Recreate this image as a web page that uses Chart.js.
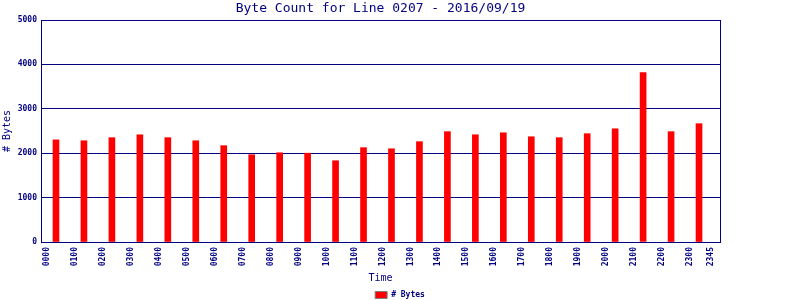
<!DOCTYPE html>
<html lang="en">
<head>
    <meta charset="UTF-8">
    <title>Byte Count for Line 0207</title>
    <style>
        body, html {
            margin: 0;
            background: #ffffff;
        }
        canvas {
            display: block;
        }
    </style>
</head>
<body>
    <canvas id="byteChart" width="800" height="300"></canvas>
    <script src="https://cdn.jsdelivr.net/npm/chart.js"></script>
    <script>
        // hourly samples
        const hours = [0, 1, 2, 3, 4, 5, 6, 7, 8, 9, 10, 11,
                       12, 13, 14, 15, 16, 17, 18, 19, 20, 21, 22, 23];
        const byteCounts = [2300, 2280, 2350, 2415, 2350, 2280, 2170, 1965, 2010, 2000, 1830, 2125,
                            2100, 2260, 2485, 2415, 2460, 2370, 2350, 2440, 2550, 3815, 2485, 2665];

        // x axis labels (last one is 23:45)
        const tickHours = [0, 1, 2, 3, 4, 5, 6, 7, 8, 9, 10, 11,
                           12, 13, 14, 15, 16, 17, 18, 19, 20, 21, 22, 23, 23.75];
        const timeLabels = ['0000', '0100', '0200', '0300', '0400', '0500', '0600', '0700',
                            '0800', '0900', '1000', '1100', '1200', '1300', '1400', '1500',
                            '1600', '1700', '1800', '1900', '2000', '2100', '2200', '2300', '2345'];

        const yTicks = [0, 1000, 2000, 3000, 4000, 5000];

        const navy = '#000080';
        const mono = '"DejaVu Sans Mono", monospace';

        const ctx = document.getElementById('byteChart').getContext('2d');

        new Chart(ctx, {
            type: 'bar',
            data: {
                datasets: [{
                    label: '# Bytes',
                    data: hours.map((h, i) => ({ x: h, y: byteCounts[i] })),
                    backgroundColor: '#ff0000',
                    borderWidth: 0,
                    barThickness: 6
                }]
            },
            options: {
                responsive: false,
                animation: false,
                layout: { padding: 0 },
                plugins: {
                    title: {
                        display: true,
                        text: 'Byte Count for Line 0207 - 2016/09/19',
                        color: navy,
                        fullSize: false,
                        font: { family: mono, size: 13, weight: 'normal', lineHeight: 1 },
                        padding: { top: 2, bottom: 5 }
                    },
                    legend: {
                        position: 'bottom',
                        maxHeight: 10,
                        labels: {
                            color: navy,
                            font: { family: mono, size: 8, weight: 'bold' },
                            boxWidth: 12,
                            boxHeight: 7,
                            padding: 1,
                            generateLabels: function (chart) {
                                return chart.data.datasets.map((ds, i) => ({
                                    text: ds.label,
                                    fillStyle: ds.backgroundColor,
                                    strokeStyle: '#808080',
                                    lineWidth: 1,
                                    fontColor: navy,
                                    datasetIndex: i
                                }));
                            }
                        }
                    },
                    tooltip: { enabled: false }
                },
                scales: {
                    x: {
                        type: 'linear',
                        min: -0.536,
                        max: 23.75,
                        offset: false,
                        afterBuildTicks: function (scale) {
                            scale.ticks = tickHours.map(v => ({ value: v }));
                        },
                        afterFit: function (scale) {
                            scale.height = 48;
                        },
                        ticks: {
                            autoSkip: false,
                            minRotation: 90,
                            maxRotation: 90,
                            labelOffset: -9,
                            padding: 5,
                            color: navy,
                            font: { family: mono, size: 8, weight: 'bold' },
                            callback: function (value, index) {
                                return timeLabels[index];
                            }
                        },
                        grid: { display: false, drawTicks: false },
                        border: { display: true, color: navy, width: 1 },
                        title: {
                            display: true,
                            text: 'Time',
                            color: navy,
                            font: { family: mono, size: 10 },
                            padding: { top: 2, bottom: 6 }
                        }
                    },
                    y: {
                        min: 0,
                        max: 5000,
                        afterBuildTicks: function (scale) {
                            scale.ticks = yTicks.map(v => ({ value: v }));
                        },
                        afterFit: function (scale) {
                            scale.width = 41;
                        },
                        ticks: {
                            padding: 4,
                            color: navy,
                            font: { family: mono, size: 8, weight: 'bold' },
                            callback: function (value) {
                                return String(value);
                            }
                        },
                        grid: { color: navy, lineWidth: 1, drawTicks: false },
                        border: { display: true, color: navy, width: 1 },
                        title: {
                            display: true,
                            text: '# Bytes',
                            color: navy,
                            font: { family: mono, size: 10 },
                            padding: { top: 1, bottom: 0 }
                        }
                    },
                    y2: {
                        position: 'right',
                        min: 0,
                        max: 5000,
                        afterFit: function (scale) {
                            scale.width = 80;
                        },
                        ticks: { display: false },
                        grid: { drawOnChartArea: false, drawTicks: false },
                        border: { display: true, color: navy, width: 1 }
                    }
                }
            }
        });
    </script>
</body>
</html>
